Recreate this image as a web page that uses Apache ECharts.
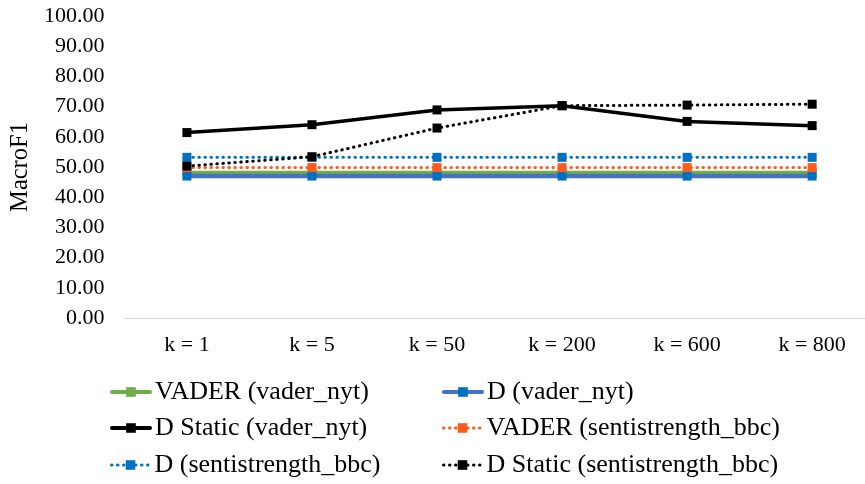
<!DOCTYPE html>
<html><head><meta charset="utf-8">
<script src="https://cdn.jsdelivr.net/npm/echarts@6/dist/echarts.min.js"></script>
<style>html,body{margin:0;padding:0;background:#fff}#c{width:865px;height:484px}</style>
</head><body><div id="c"></div>
<script>
var categories = ['k = 1','k = 5','k = 50','k = 200','k = 600','k = 800'];
var vaderNyt = [48.2,48.2,48.2,48.2,48.2,48.2];
var dVaderNyt = [47.0,47.0,47.0,47.0,47.0,47.0];
var dStaticVaderNyt = [61.4,64.0,68.9,70.3,65.1,63.7];
var vaderBbc = [49.8,49.8,49.8,49.8,49.8,49.8];
var dBbc = [53.2,53.2,53.2,53.2,53.2,53.2];
var dStaticBbc = [50.3,53.4,62.9,70.3,70.5,70.8];
var yTicks = [0,10,20,30,40,50,60,70,80,90,100];

var font = '"Liberation Serif","Times New Roman",serif';
var names = ['VADER (vader_nyt)','D (vader_nyt)','D Static (vader_nyt)','VADER (sentistrength_bbc)','D (sentistrength_bbc)','D Static (sentistrength_bbc)'];
var datas = [vaderNyt,dVaderNyt,dStaticVaderNyt,vaderBbc,dBbc,dStaticBbc];
var colors = ['#70AD47','#4472C4','#000000','#FF5B1F','#0070C0','#000000'];
var markerColors = ['#70AD47','#0070C0','#000000','#FF5B1F','#0070C0','#000000'];
var dotted = [false,false,false,true,true,true];
var widths = [3.5,4.5,3.5,3,3,3];
var catIdx = categories.map(function(c,i){return i;});
var series = names.map(function(n,i){
  return {
    name:n,type:'line',
    data:datas[i].map(function(v,j){return [catIdx[j],v];}),
    symbol:'rect',symbolSize:9,
    itemStyle:{color:markerColors[i]},
    lineStyle:{color:colors[i],width:widths[i],type:dotted[i]?[0.5,5.5]:'solid',cap:'round'},
    z: i===1?3:(i===0?2:4)
  };
});
var legendPos = [[110,379],[442,379],[110,415],[442,415],[110,452],[442,452]];
var legends = names.map(function(n,i){
  return {data:[n],left:legendPos[i][0],top:legendPos[i][1],itemWidth:38,itemHeight:12,padding:0,
    lineStyle:{width:dotted[i]?3:4,type:dotted[i]?[0.5,5.5]:'solid',cap:'round'},
    textStyle:{fontFamily:font,fontSize:26,lineHeight:26,color:'#000'},selectedMode:false};
});
var unit = 125.4;
var gridLeft = 122.3;
var chart = echarts.init(document.getElementById('c'));
chart.setOption({
  animation:false,
  grid:{left:gridLeft,top:16,right:0,height:302,containLabel:false},
  legend:legends,
  xAxis:{type:'value',min:-0.5,max:-0.5+(865-gridLeft)/unit,
    axisLine:{show:true,onZero:false,lineStyle:{color:'#D9D9D9',width:1}},axisTick:{show:false},
    splitLine:{show:false},
    axisLabel:{customValues:catIdx,fontFamily:font,fontSize:22,color:'#000',margin:16,
      formatter:function(v){return categories[Math.round(v)]||'';}}},
  yAxis:{type:'value',min:0,max:100,interval:10,
    name:'MacroF1',nameLocation:'middle',nameGap:86,nameRotate:90,
    nameTextStyle:{fontFamily:font,fontSize:24.5,color:'#000'},
    axisLine:{show:false},axisTick:{show:false},splitLine:{show:false},
    axisLabel:{fontFamily:font,fontSize:22,color:'#000',margin:20,
      formatter:function(v){return yTicks.indexOf(v)>=0?v.toFixed(2):'';}}},
  series:series
});
</script></body></html>
